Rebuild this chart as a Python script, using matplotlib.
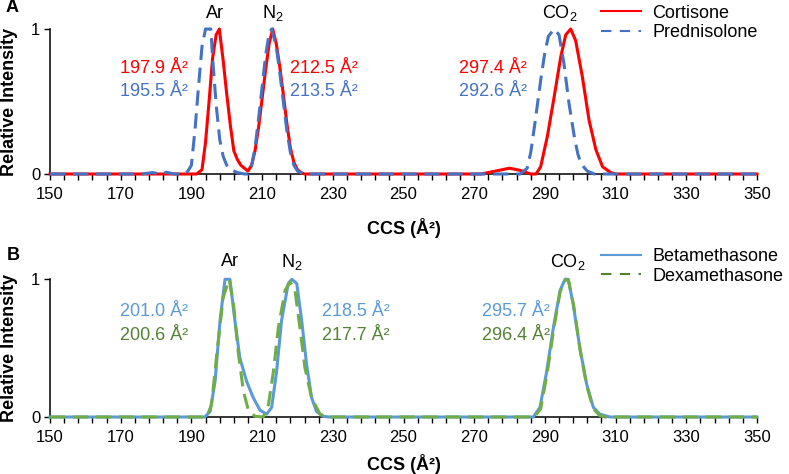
import matplotlib
matplotlib.use("Agg")
import matplotlib.pyplot as plt
from matplotlib.lines import Line2D

plt.rcParams['font.family'] = ['Liberation Sans', 'DejaVu Sans']
plt.rcParams['mathtext.fontset'] = 'custom'
plt.rcParams['mathtext.rm'] = 'Liberation Sans'
plt.rcParams['mathtext.it'] = 'Liberation Sans:italic'
plt.rcParams['mathtext.bf'] = 'Liberation Sans:bold'
plt.rcParams['font.size'] = 13

# ---- data ----
# panel A
cort_x = [150, 191.5, 193, 194, 195, 196, 197, 197.9, 199, 200, 201, 202, 203, 204, 205, 206,
          207, 208, 209, 210, 211, 212, 213, 214, 215, 216, 217, 218, 219, 220, 221, 222,
          272, 276, 280, 283, 286, 287.5, 288.8, 290.7, 292.6, 294.5, 295.9, 297.3, 298.7,
          300.6, 302.5, 304.4, 306.3, 308.6, 310, 350]
cort_y = [0, 0, 0.03, 0.22, 0.5, 0.8, 0.96, 1.0, 0.78, 0.55, 0.34, 0.16, 0.1, 0.06, 0.04, 0.02,
          0.06, 0.16, 0.32, 0.52, 0.72, 0.9, 1.0, 0.9, 0.74, 0.55, 0.35, 0.18, 0.08, 0.03, 0.01, 0,
          0, 0.02, 0.04, 0.025, 0, 0, 0.05, 0.26, 0.53, 0.81, 0.96, 1.0, 0.92,
          0.67, 0.37, 0.17, 0.05, 0.01, 0, 0]

pred_x = [150, 176, 179, 181, 183, 185, 188, 189, 190, 191, 192, 193, 194, 195.5, 196, 197,
          198, 199, 200, 201, 203, 205,
          206, 207, 208, 209, 210, 211, 212, 212.7, 214, 215, 216, 217, 218, 219, 220, 222,
          283, 285, 286, 287, 288, 289, 290, 291, 292.6, 294, 295.4, 296.8, 298.3, 299.3,
          300.2, 302, 304, 350]
pred_y = [0, 0, 0.01, 0, 0.012, 0, 0, 0.02, 0.06, 0.3, 0.6, 0.88, 1.0, 1.0, 0.8, 0.48,
          0.24, 0.12, 0.06, 0.03, 0.01, 0,
          0, 0.05, 0.18, 0.38, 0.6, 0.82, 0.97, 1.0, 0.88, 0.7, 0.5, 0.3, 0.15, 0.06, 0.02, 0,
          0, 0.04, 0.15, 0.32, 0.5, 0.68, 0.84, 0.95, 1.0, 0.96, 0.76, 0.49, 0.26, 0.14,
          0.07, 0.02, 0, 0]

# panel B
beta_x = [150, 193.8, 195.3, 196.7, 198.1, 199.5, 200.9, 202.3, 203.7, 205.6, 207.5, 209.4,
          211.3, 212.7, 214.1, 215.5, 217.4, 218.4, 219.8, 221.2, 222.6, 224.0, 225.4, 227.3,
          229, 286.7, 288.6, 290.5, 292.4, 294.3, 295.7, 296.6, 298.0, 299.9, 301.8, 303.7,
          305.6, 308.4, 350]
beta_y = [0, 0, 0.04, 0.26, 0.7, 1.0, 1.0, 0.7, 0.43, 0.26, 0.14, 0.05,
          0.02, 0.07, 0.33, 0.7, 0.97, 1.0, 0.97, 0.7, 0.38, 0.14, 0.04, 0.005,
          0, 0, 0.07, 0.33, 0.65, 0.92, 1.0, 1.0, 0.82, 0.5, 0.24, 0.07,
          0.02, 0, 0]

dexa_x = [150, 194.3, 195.7, 197.2, 199.0, 200.7, 201.9, 203.3, 204.7, 206.1, 208.0, 210.3,
          211.8, 213.2, 214.6, 216.5, 217.9, 219.3, 220.7, 222.1, 224.0, 226.4, 228.3,
          287, 288.8, 290.6, 292.5, 294.3, 295.9, 296.7, 298.2, 300, 301.9, 303.7, 305.5,
          307, 350]
dexa_y = [0, 0, 0.09, 0.46, 0.87, 1.0, 0.82, 0.46, 0.19, 0.05, 0.005, 0,
          0.09, 0.33, 0.65, 0.92, 0.98, 0.92, 0.65, 0.36, 0.14, 0.02, 0,
          0, 0.06, 0.31, 0.64, 0.91, 1.0, 0.99, 0.8, 0.48, 0.22, 0.06, 0.01,
          0, 0]

gases = ["Ar", "N$_2$", "CO$_2$"]
ccs_a_top = ["197.9", "212.5", "297.4"]
ccs_a_bot = ["195.5", "213.5", "292.6"]
ccs_b_top = ["201.0", "218.5", "295.7"]
ccs_b_bot = ["200.6", "217.7", "296.4"]
xtick_major = list(range(150, 351, 20))
xtick_minor = list(range(150, 351, 4))

RED = '#FF0000'
BLUE = '#4472C4'
LBLUE = '#5B9BD5'
GREEN = '#70AD47'
DGREEN = '#548235'

W, H = 789, 474
fig = plt.figure(figsize=(W / 100, H / 100), dpi=100)
axA = fig.add_axes([50 / W, 1 - 174 / H, 707 / W, 145 / H])
axB = fig.add_axes([50 / W, 1 - 417 / H, 707 / W, 137.7 / H])


def style_axis(ax):
    ax.set_xlim(150, 350)
    ax.set_ylim(0, 1)
    ax.set_xticks(xtick_major)
    ax.set_xticks(xtick_minor, minor=True)
    ax.set_yticks([0, 1])
    ax.set_yticklabels(["0", "1"])
    for s in ['top', 'right']:
        ax.spines[s].set_visible(False)
    for s in ['left', 'bottom']:
        ax.spines[s].set_linewidth(1.1)
        ax.spines[s].set_color('black')
    ax.tick_params(axis='x', which='both', direction='out', length=4, width=1.0, pad=5.5,
                   labelsize=12)
    ax.tick_params(axis='y', direction='out', length=4.5, width=1.0, pad=2.5, labelsize=12)
    ax.set_ylabel("Relative Intensity", fontweight='bold', fontsize=13)
    ax.set_xlabel("CCS (Å²)", fontweight='bold', fontsize=13)
    ax.yaxis.label.set_va('center')
    ax.xaxis.label.set_va('center')


# ---- panel A ----
style_axis(axA)
axA.plot(cort_x, cort_y, color=RED, lw=2.2, clip_on=False, zorder=3)
axA.plot(pred_x, pred_y, color=BLUE, lw=2.2, dashes=(5, 2.5), clip_on=False, zorder=4)
axA.yaxis.set_label_coords(-0.057, 0.5)
axA.xaxis.set_label_coords(0.5, -0.372)

gas_pos_a = [196.7, 213.1, 294.3]
for g, xp in zip(gases, gas_pos_a):
    axA.text(xp, 1.11, g, ha='center', va='center')

axA.text(189, 0.731, ccs_a_top[0] + " Å²", color=RED, ha='right', va='center')
axA.text(189, 0.566, ccs_a_bot[0] + " Å²", color=BLUE, ha='right', va='center')
axA.text(218, 0.731, ccs_a_top[1] + " Å²", color=RED, ha='left', va='center')
axA.text(218, 0.566, ccs_a_bot[1] + " Å²", color=BLUE, ha='left', va='center')
axA.text(285, 0.731, ccs_a_top[2] + " Å²", color=RED, ha='right', va='center')
axA.text(285, 0.566, ccs_a_bot[2] + " Å²", color=BLUE, ha='right', va='center')

hA = [Line2D([], [], color=RED, lw=1.5),
      Line2D([], [], color=BLUE, lw=1.5, dashes=(5, 4))]
fig.legend(hA, ["Cortisone", "Prednisolone"], loc='upper left',
           bbox_to_anchor=(601 / W, 1 - 4.5 / H), frameon=False, fontsize=13,
           borderpad=0, borderaxespad=0, handlelength=2.2, handletextpad=0.65,
           labelspacing=0.15)

# ---- panel B ----
style_axis(axB)
axB.plot(beta_x, beta_y, color=LBLUE, lw=2.2, clip_on=False, zorder=3)
axB.plot(dexa_x, dexa_y, color=GREEN, lw=2.2, dashes=(5, 2.5), clip_on=False, zorder=4)
axB.yaxis.set_label_coords(-0.057, 0.5)
axB.xaxis.set_label_coords(0.5, -0.341)

gas_pos_b = [200.9, 218.5, 296.5]
for g, xp in zip(gases, gas_pos_b):
    axB.text(xp, 1.126, g, ha='center', va='center')

axB.text(189, 0.763, ccs_b_top[0] + " Å²", color=LBLUE, ha='right', va='center')
axB.text(189, 0.595, ccs_b_bot[0] + " Å²", color=DGREEN, ha='right', va='center')
axB.text(227, 0.763, ccs_b_top[1] + " Å²", color=LBLUE, ha='left', va='center')
axB.text(227, 0.595, ccs_b_bot[1] + " Å²", color=DGREEN, ha='left', va='center')
axB.text(291.4, 0.763, ccs_b_top[2] + " Å²", color=LBLUE, ha='right', va='center')
axB.text(291.4, 0.595, ccs_b_bot[2] + " Å²", color=DGREEN, ha='right', va='center')

hB = [Line2D([], [], color=LBLUE, lw=1.5),
      Line2D([], [], color=DGREEN, lw=1.5, dashes=(5, 4))]
fig.legend(hB, ["Betamethasone", "Dexamethasone"], loc='upper left',
           bbox_to_anchor=(601 / W, 1 - 248 / H), frameon=False, fontsize=13,
           borderpad=0, borderaxespad=0, handlelength=2.2, handletextpad=0.65,
           labelspacing=0.15)

fig.text(12 / W, 1 - 8 / H, "A", fontweight='bold', fontsize=13, ha='center', va='center')
fig.text(13 / W, 1 - 255 / H, "B", fontweight='bold', fontsize=13, ha='center', va='center')

fig.savefig("out.png", dpi=100)
